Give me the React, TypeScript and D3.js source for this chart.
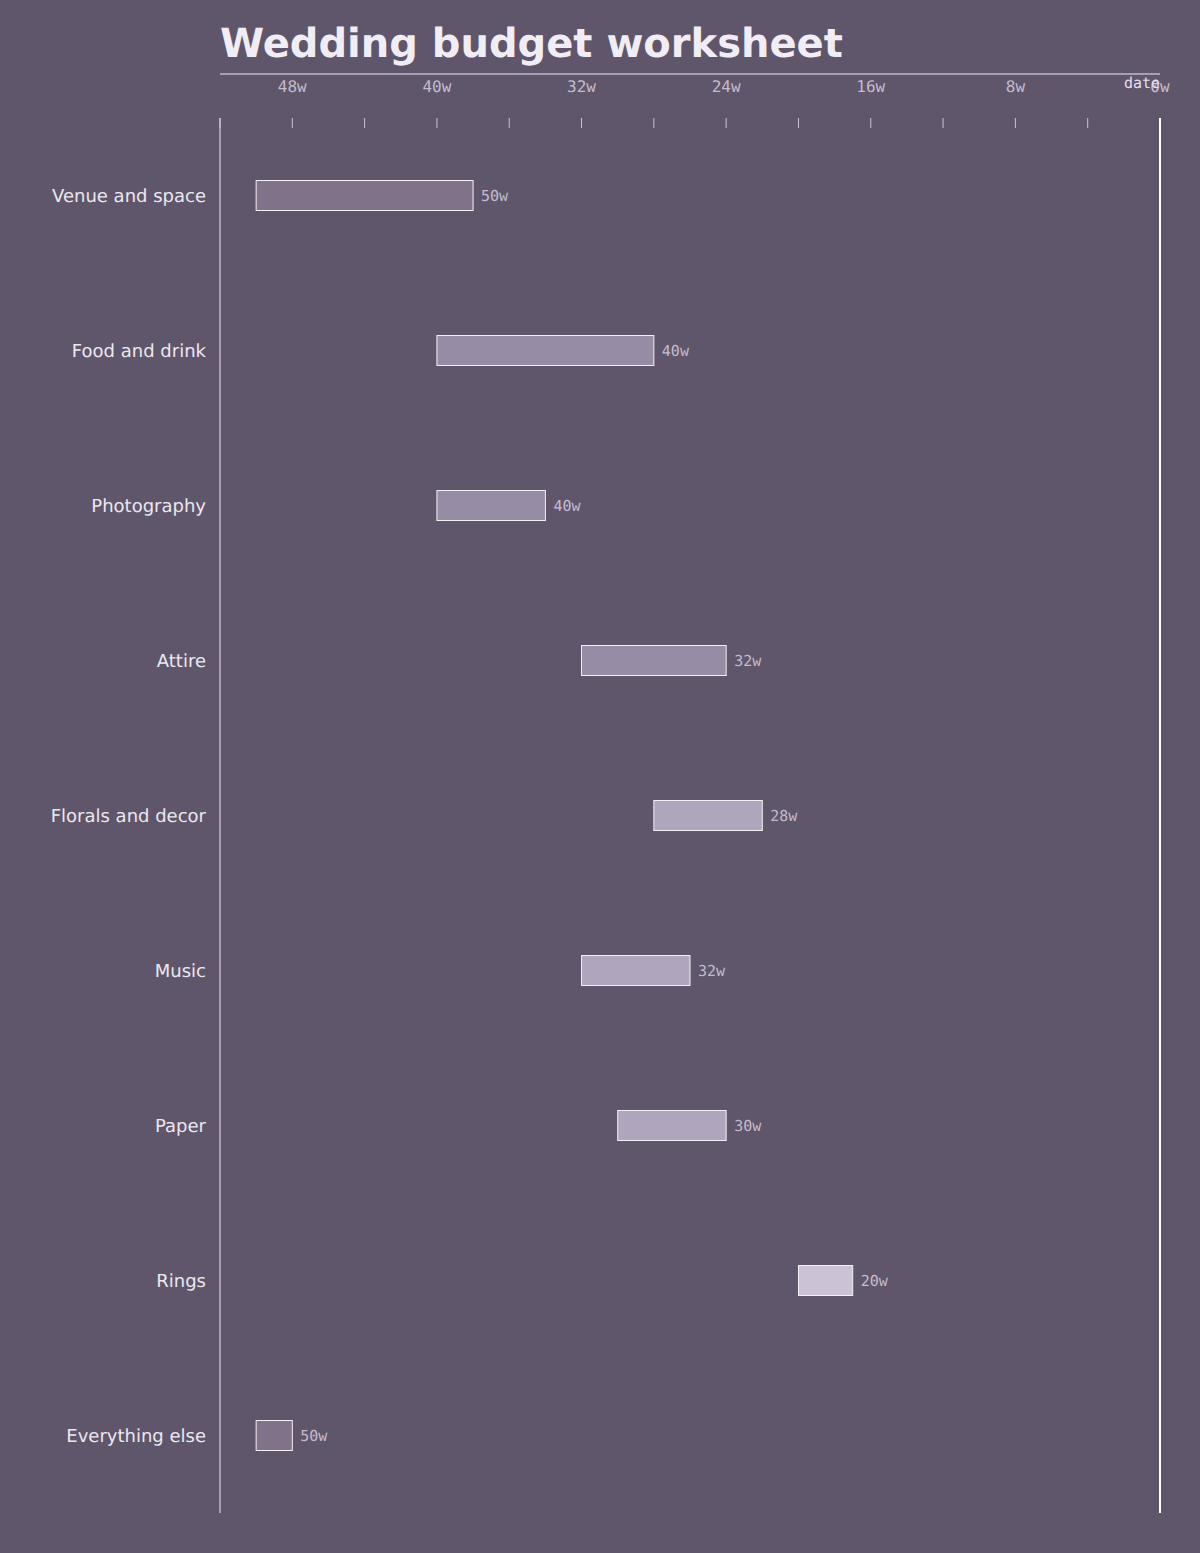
import { useEffect, useRef } from "react"
import * as d3 from "d3"

const categories = [
  "Venue and space",
  "Food and drink",
  "Photography",
  "Attire",
  "Florals and decor",
  "Music",
  "Paper",
  "Rings",
  "Everything else",
]
// weeks before the wedding
const startWeeks = [50, 40, 40, 32, 28, 32, 30, 20, 50]
const endWeeks = [38, 28, 34, 24, 22, 26, 24, 17, 48]
const barFills = [
  "#7f7289",
  "#968ca5",
  "#968ca5",
  "#968ca5",
  "#afa5bd",
  "#afa5bd",
  "#afa5bd",
  "#cbc3d5",
  "#7f7289",
]
const tickWeeks = [52, 48, 44, 40, 36, 32, 28, 24, 20, 16, 12, 8, 4]
const labelWeeks = [48, 40, 32, 24, 16, 8, 0]

const width = 1200
const height = 1553
const bg = "#5f566b"
const axisColor = "#a89fb3"
const mono = "'DejaVu Sans Mono', monospace"
const sans = "'DejaVu Sans', sans-serif"

export default function App() {
  const svgRef = useRef<SVGSVGElement>(null)

  useEffect(() => {
    if (!svgRef.current) return

    d3.select(svgRef.current).selectAll("*").remove()
    const svg = d3.select(svgRef.current)

    const x = d3.scaleLinear().domain([52, 0]).range([220, 1160])
    const y = d3.scaleBand<string>().domain(categories).range([118, 1513])
    const barHeight = 30

    svg.append("rect").attr("width", width).attr("height", height).attr("fill", bg)

    svg
      .append("text")
      .attr("x", 220)
      .attr("y", 57)
      .attr("font-family", sans)
      .attr("font-size", 40)
      .attr("font-weight", 700)
      .attr("fill", "#f1edf4")
      .text("Wedding budget worksheet")

    // Top rule
    svg
      .append("line")
      .attr("x1", 220)
      .attr("x2", 1160)
      .attr("y1", 74)
      .attr("y2", 74)
      .attr("stroke", axisColor)
      .attr("stroke-width", 2)

    // Left and right rails
    svg
      .append("line")
      .attr("x1", 220)
      .attr("x2", 220)
      .attr("y1", 118)
      .attr("y2", 1513)
      .attr("stroke", axisColor)
      .attr("stroke-width", 2)
    svg
      .append("line")
      .attr("x1", 1160)
      .attr("x2", 1160)
      .attr("y1", 118)
      .attr("y2", 1513)
      .attr("stroke", "#ffffff")
      .attr("stroke-width", 2)

    // Tick marks under the header
    svg
      .append("g")
      .selectAll("line")
      .data(tickWeeks)
      .enter()
      .append("line")
      .attr("x1", (d) => x(d))
      .attr("x2", (d) => x(d))
      .attr("y1", 118)
      .attr("y2", 128)
      .attr("stroke", "#cbc3d3")
      .attr("stroke-width", 1)

    // Tick labels
    svg
      .append("g")
      .selectAll("text")
      .data(labelWeeks)
      .enter()
      .append("text")
      .attr("x", (d) => x(d))
      .attr("y", 92)
      .attr("text-anchor", "middle")
      .attr("font-family", mono)
      .attr("font-size", 16)
      .attr("fill", "#c4bccd")
      .text((d) => `${d}w`)

    svg
      .append("text")
      .attr("x", 1160)
      .attr("y", 88)
      .attr("text-anchor", "end")
      .attr("font-family", mono)
      .attr("font-size", 15)
      .attr("fill", "#e4dfe9")
      .text("date")

    const rows = svg
      .append("g")
      .selectAll("g")
      .data(categories)
      .enter()
      .append("g")
      .attr("transform", (d) => `translate(0,${(y(d) ?? 0) + y.bandwidth() / 2})`)

    rows
      .append("text")
      .attr("x", 206)
      .attr("y", 0)
      .attr("dy", ".35em")
      .attr("text-anchor", "end")
      .attr("font-family", sans)
      .attr("font-size", 18)
      .attr("fill", "#ece8f0")
      .text((d) => d)

    rows
      .append("rect")
      .attr("x", (d, i) => x(startWeeks[i]))
      .attr("y", -barHeight / 2)
      .attr("width", (d, i) => x(endWeeks[i]) - x(startWeeks[i]))
      .attr("height", barHeight)
      .attr("fill", (d, i) => barFills[i])
      .attr("stroke", "#f3f0f6")
      .attr("stroke-width", 1)

    rows
      .append("text")
      .attr("x", (d, i) => x(endWeeks[i]) + 8)
      .attr("y", 0.5)
      .attr("dy", ".35em")
      .attr("font-family", mono)
      .attr("font-size", 15)
      .attr("fill", "#c4bccd")
      .text((d, i) => `${startWeeks[i]}w`)
  }, [])

  return (
    <svg
      ref={svgRef}
      width={width}
      height={height}
      style={{ position: "absolute", left: 0, top: 0, display: "block", textRendering: "geometricPrecision" }}
    />
  )
}
